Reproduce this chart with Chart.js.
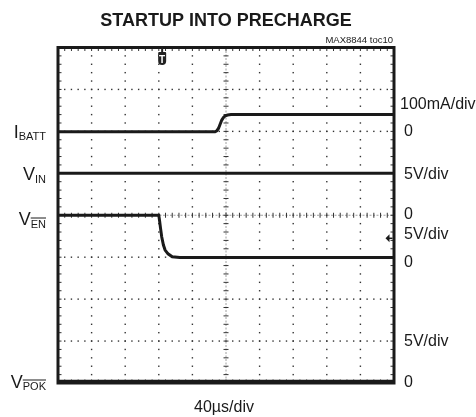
<!DOCTYPE html>
<html>
<head>
  <meta charset="utf-8">
  <title>Startup into Precharge</title>
  <style>
    body { margin: 0; background: #fff; }
    .wrap { position: relative; width: 476px; height: 417px; }
  </style>
</head>
<body>
  <div class="wrap"><canvas id="scope"></canvas></div>
  <script src="https://cdn.jsdelivr.net/npm/chart.js"></script>
  <script>
    // scope settings: 10 x 8 divisions, 40us/div
    const usPerDiv = 40;
    const timeDivs = [0, 40, 80, 120, 160, 200, 240, 280, 320, 360, 400];
    const gridDivs = [0, 1, 2, 3, 4, 5, 6, 7, 8];

    // IBATT, 100mA/div, zero at 6th division
    const ibattTime = [0, 187, 189, 191, 193, 195, 197, 199, 202, 206, 400];
    const ibattMa   = [-1, -1, 1, 7, 17, 27, 33, 37, 39, 40, 40];

    // VIN, 5V/div, zero at 4th division
    const vinTime = [0, 400];
    const vinV    = [5, 5];

    // V(EN bar), 5V/div, zero at 3rd division
    const venTime = [0, 120, 121, 122, 123.5, 125.5, 127.5, 131, 136, 145, 400];
    const venV    = [5, 5, 4.3, 3.5, 2.4, 1.45, 0.85, 0.4, 0.05, -0.05, -0.05];

    // V(POK bar), 5V/div, zero at bottom
    const pokTime = [0, 400];
    const pokV    = [0.2, 0.2];

    const triggerTime = 124;
    const groundMarkDiv = 3.45;

    const pts = (xs, ys) => xs.map((t, i) => ({ x: t, y: ys[i] }));
    const FONT = '"Liberation Sans", Arial, sans-serif';
    const INK = '#1a1a1a';

    const scopeGrid = {
      id: 'scopeGrid',
      beforeDatasetsDraw(chart) {
        const { ctx, chartArea: a, scales } = chart;
        const sx = scales.x, sg = scales.grid;
        ctx.save();
        ctx.fillStyle = '#333';
        // dotted division lines
        timeDivs.forEach((t, i) => {
          if (i === 0 || i === 10 || i === 5) return;
          const px = sx.getPixelForValue(t);
          for (let k = 0; k <= 40; k++) {
            const py = sg.getPixelForValue(k * 0.2);
            ctx.fillRect(px - 0.7, py - 0.7, 1.4, 1.4);
          }
        });
        gridDivs.forEach((d, i) => {
          if (i === 0 || i === 8 || i === 4) return;
          const py = sg.getPixelForValue(d);
          for (let k = 0; k <= 50; k++) {
            const px = sx.getPixelForValue(k * usPerDiv / 5);
            ctx.fillRect(px - 0.7, py - 0.7, 1.4, 1.4);
          }
        });
        // center cross with minor ticks
        const cx = sx.getPixelForValue(200), cy = sg.getPixelForValue(4);
        ctx.strokeStyle = '#888';
        ctx.lineWidth = 0.8;
        ctx.setLineDash([2, 1.5]);
        ctx.beginPath();
        ctx.moveTo(a.left, cy); ctx.lineTo(a.right, cy);
        ctx.moveTo(cx, a.top); ctx.lineTo(cx, a.bottom);
        ctx.stroke();
        ctx.setLineDash([]);
        ctx.strokeStyle = '#333';
        ctx.lineWidth = 1;
        ctx.beginPath();
        for (let k = 1; k < 50; k++) {
          const px = sx.getPixelForValue(k * usPerDiv / 5);
          ctx.moveTo(px, cy - 2.5); ctx.lineTo(px, cy + 2.5);
        }
        for (let k = 1; k < 40; k++) {
          const py = sg.getPixelForValue(k * 0.2);
          ctx.moveTo(cx - 2.5, py); ctx.lineTo(cx + 2.5, py);
        }
        // minor ticks on the frame
        for (let k = 1; k < 50; k++) {
          const px = sx.getPixelForValue(k * usPerDiv / 5);
          ctx.moveTo(px, a.top); ctx.lineTo(px, a.top + 3.5);
          ctx.moveTo(px, a.bottom); ctx.lineTo(px, a.bottom - 3.5);
        }
        for (let k = 1; k < 40; k++) {
          const py = sg.getPixelForValue(k * 0.2);
          ctx.moveTo(a.left, py); ctx.lineTo(a.left + 3.5, py);
          ctx.moveTo(a.right, py); ctx.lineTo(a.right - 3.5, py);
        }
        ctx.stroke();
        ctx.restore();
      },
      afterDatasetsDraw(chart) {
        const { ctx, chartArea: a, scales } = chart;
        ctx.save();
        ctx.strokeStyle = INK;
        ctx.lineWidth = 3;
        ctx.strokeRect(a.left, a.top, a.right - a.left, a.bottom - a.top);

        // trigger marker
        const tx = scales.x.getPixelForValue(triggerTime);
        ctx.fillStyle = '#222';
        ctx.fillRect(tx - 1, a.top, 2, 5);
        ctx.beginPath();
        ctx.roundRect(tx - 4, a.top + 4.5, 8, 13, [1, 1, 4, 4]);
        ctx.fill();
        ctx.fillStyle = '#fff';
        ctx.font = 'bold 10px ' + FONT;
        ctx.textAlign = 'center';
        ctx.fillText('T', tx, a.top + 15);

        // ground reference arrow
        const gy = scales.grid.getPixelForValue(groundMarkDiv);
        ctx.fillStyle = INK;
        ctx.beginPath();
        ctx.moveTo(a.right - 8.5, gy);
        ctx.lineTo(a.right - 4.5, gy - 4);
        ctx.lineTo(a.right - 4.5, gy + 4);
        ctx.closePath();
        ctx.fill();
        ctx.lineWidth = 1.5;
        ctx.beginPath();
        ctx.moveTo(a.right - 5, gy); ctx.lineTo(a.right - 1.5, gy);
        ctx.stroke();
        ctx.restore();
      },
      afterDraw(chart) {
        const { ctx } = chart;
        ctx.save();
        ctx.fillStyle = INK;
        ctx.strokeStyle = INK;

        ctx.textAlign = 'center';
        ctx.font = 'bold 18px ' + FONT;
        ctx.fillText('STARTUP INTO PRECHARGE', 226, 26);
        ctx.font = '16px ' + FONT;
        ctx.fillText('40\u00b5s/div', 224, 412);

        ctx.textAlign = 'right';
        ctx.font = '9.5px ' + FONT;
        ctx.fillText('MAX8844 toc10', 393, 43);

        ctx.textAlign = 'left';
        ctx.font = '16px ' + FONT;
        const right = [
          ['100mA/div', 400, 109], ['0', 404, 136],
          ['5V/div', 404, 179], ['0', 404, 219],
          ['5V/div', 404, 239], ['0', 404, 267],
          ['5V/div', 404, 346], ['0', 404, 387]
        ];
        right.forEach(([s, x, y]) => ctx.fillText(s, x, y));

        const chan = (main, sub, base, subBase, bar) => {
          ctx.font = '18px ' + FONT;
          const wm = ctx.measureText(main).width;
          ctx.font = '11px ' + FONT;
          const ws = ctx.measureText(sub).width;
          const x0 = 46 - ws - wm;
          ctx.font = '18px ' + FONT;
          ctx.fillText(main, x0, base);
          ctx.font = '11px ' + FONT;
          ctx.fillText(sub, x0 + wm, subBase);
          if (bar) {
            ctx.lineWidth = 1;
            ctx.beginPath();
            ctx.moveTo(x0 + wm, subBase - 10);
            ctx.lineTo(x0 + wm + ws, subBase - 10);
            ctx.stroke();
          }
        };
        chan('I', 'BATT', 138, 139.5, false);
        chan('V', 'IN', 180, 183, false);
        chan('V', 'EN', 225, 228, true);
        chan('V', 'POK', 388, 390, true);
        ctx.restore();
      }
    };

    const trace = (label, data, axis) => ({
      label, data, yAxisID: axis,
      borderColor: INK, borderWidth: 3,
      pointRadius: 0, tension: 0, fill: false
    });

    new Chart(document.getElementById('scope'), {
      type: 'line',
      data: {
        datasets: [
          trace('IBATT', pts(ibattTime, ibattMa), 'yI'),
          trace('VIN', pts(vinTime, vinV), 'yIn'),
          trace('VEN', pts(venTime, venV), 'yEn'),
          trace('VPOK', pts(pokTime, pokV), 'yPok')
        ]
      },
      options: {
        responsive: true,
        maintainAspectRatio: false,
        animation: false,
        events: [],
        layout: { padding: { left: 58, top: 47.5, right: 82, bottom: 34 } },
        plugins: { legend: { display: false }, tooltip: { enabled: false }, title: { display: false } },
        scales: {
          x: { type: 'linear', min: 0, max: 400, display: false },
          grid: { type: 'linear', position: 'left', min: 0, max: 8, display: false },
          yI: { type: 'linear', position: 'left', min: -600, max: 200, display: false },
          yIn: { type: 'linear', position: 'left', min: -20, max: 20, display: false },
          yEn: { type: 'linear', position: 'left', min: -15, max: 25, display: false },
          yPok: { type: 'linear', position: 'left', min: 0, max: 40, display: false }
        }
      },
      plugins: [scopeGrid]
    });
  </script>
</body>
</html>
